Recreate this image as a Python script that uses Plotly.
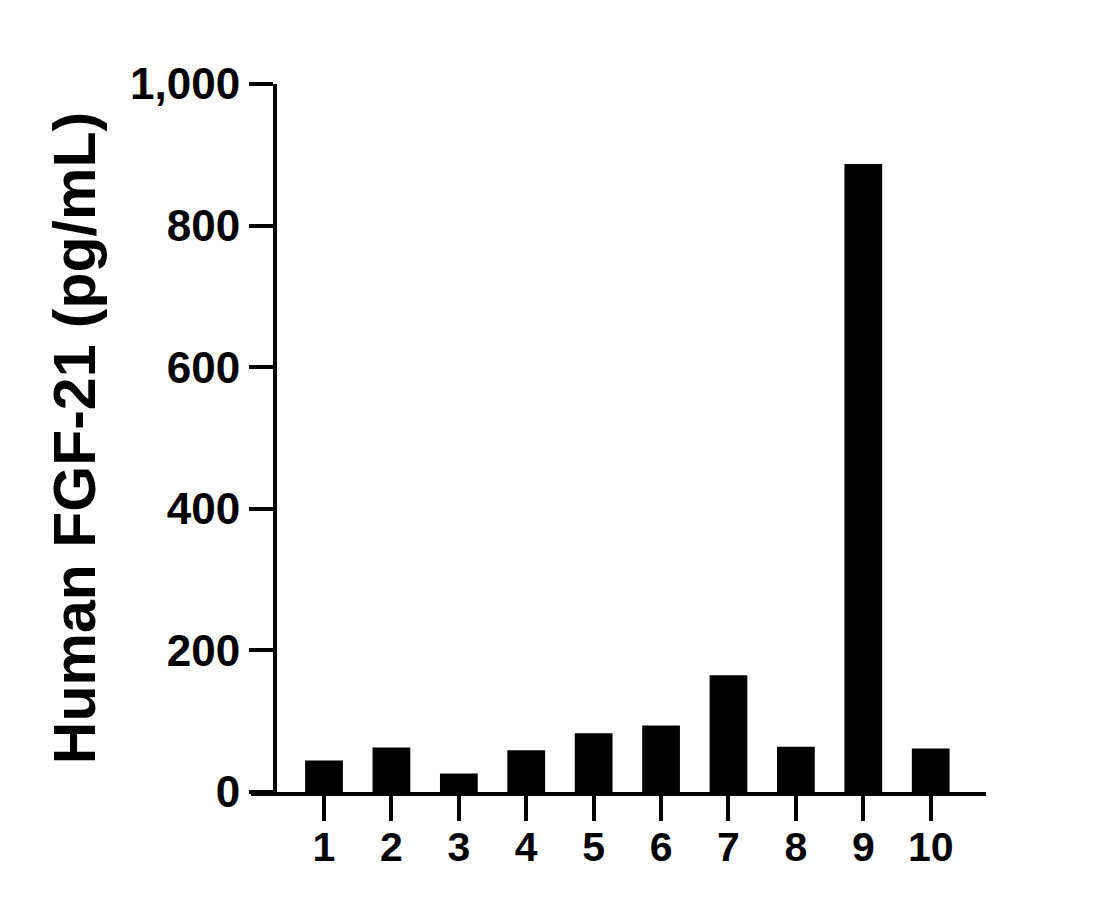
import plotly.graph_objects as go

categories = ["1", "2", "3", "4", "5", "6", "7", "8", "9", "10"]
values = [44.5, 63, 26, 59, 83, 94, 165, 64, 887, 61.5]
y_ticks = [0, 200, 400, 600, 800, 1000]
y_tick_labels = ["0", "200", "400", "600", "800", "1,000"]

W, H = 1117, 909
L, R, T, B = 243, 139, 76, 125
plot_w = W - L - R
yaxis_offset = 24

font = "Liberation Sans, Arial, sans-serif"

fig = go.Figure(go.Bar(
    x=categories, y=values, width=0.56,
    marker=dict(color="black", line=dict(width=0)),
))

fig.update_layout(
    width=W, height=H,
    margin=dict(l=L, r=R, t=T, b=B),
    paper_bgcolor="white", plot_bgcolor="white",
    showlegend=False,
    font=dict(family=font, color="black"),
    xaxis=dict(
        type="category",
        range=[-1.083, 9.82],
        showline=True, linecolor="black", linewidth=4,
        ticks="outside", ticklen=25, tickwidth=4, tickcolor="black",
        showgrid=False, zeroline=False,
        tickfont=dict(family=font, size=41, color="black", weight="bold"),
        ticklabelstandoff=-9,
    ),
    yaxis=dict(
        range=[0, 1000],
        anchor="free", position=yaxis_offset / plot_w,
        showline=True, linecolor="black", linewidth=4,
        ticks="outside", ticklen=24, tickwidth=4, tickcolor="black",
        tickvals=y_ticks, ticktext=y_tick_labels,
        showgrid=False, zeroline=False,
        tickfont=dict(family=font, size=44, color="black", weight="bold"),
        title=dict(text="Human FGF-21 (pg/mL)", standoff=14,
                   font=dict(family=font, size=59, color="black", weight="bold")),
    ),
)

fig.write_html("out.html")
